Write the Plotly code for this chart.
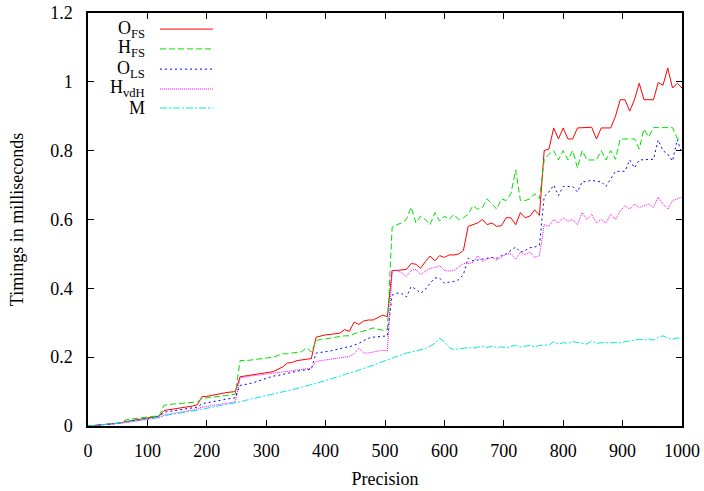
import plotly.graph_objects as go

# Precision values (step 8 from 0 to 1000)
precision = list(range(0, 1001, 8))

o_fs = [
    0, 0.001, 0.002, 0.003, 0.004, 0.005, 0.007, 0.009,
    0.013, 0.015, 0.017, 0.019, 0.022, 0.025, 0.027, 0.029,
    0.045, 0.047, 0.048, 0.05, 0.053, 0.055, 0.058, 0.062,
    0.085, 0.086, 0.088, 0.09, 0.094, 0.097, 0.099, 0.1,
    0.143, 0.145, 0.148, 0.15, 0.152, 0.155, 0.157, 0.158, 0.165, 0.172, 0.183, 0.185, 0.19, 0.192, 0.193, 0.196,
    0.258, 0.262, 0.265, 0.266, 0.268, 0.27, 0.28, 0.275, 0.302, 0.295, 0.305, 0.308, 0.308, 0.315, 0.322, 0.318,
    0.452, 0.452, 0.453, 0.455, 0.472, 0.47, 0.458, 0.478, 0.494, 0.48, 0.495, 0.49, 0.497, 0.497, 0.5, 0.51,
    0.58, 0.585, 0.59, 0.6, 0.585, 0.59, 0.58, 0.582, 0.605, 0.605, 0.585, 0.62, 0.605, 0.61, 0.628, 0.612,
    0.80, 0.805, 0.866, 0.834, 0.866, 0.834, 0.834, 0.866, 0.866, 0.868, 0.868, 0.834, 0.866, 0.866, 0.866,
    0.9, 0.948, 0.948, 0.915, 0.948, 0.996, 0.948, 0.948, 0.948, 0.998, 0.99, 1.04, 0.982, 0.996, 0.982,
]

h_fs = [
    0, 0.001, 0.002, 0.003, 0.004, 0.006, 0.008, 0.01,
    0.018, 0.02, 0.022, 0.024, 0.026, 0.028, 0.029, 0.03,
    0.06, 0.063, 0.064, 0.065, 0.066, 0.067, 0.068, 0.07,
    0.08, 0.082, 0.084, 0.086, 0.087, 0.088, 0.09, 0.092,
    0.19, 0.19, 0.191, 0.193, 0.195, 0.197, 0.198, 0.2, 0.205, 0.21, 0.21, 0.212, 0.213, 0.216, 0.228, 0.215,
    0.248, 0.252, 0.253, 0.256, 0.258, 0.26, 0.262, 0.262, 0.268, 0.272, 0.274, 0.28, 0.285, 0.282, 0.278, 0.28,
    0.578, 0.585, 0.59, 0.6, 0.636, 0.59, 0.61, 0.6, 0.585, 0.62, 0.595, 0.61, 0.6, 0.615, 0.6, 0.605,
    0.615, 0.64, 0.63, 0.635, 0.66, 0.645, 0.63, 0.66, 0.655, 0.675, 0.744, 0.655, 0.655, 0.66, 0.675, 0.66,
    0.773, 0.79, 0.8, 0.773, 0.8, 0.773, 0.8, 0.75, 0.8, 0.773, 0.773, 0.773, 0.8, 0.773, 0.8,
    0.775, 0.834, 0.834, 0.834, 0.834, 0.805, 0.863, 0.84, 0.867, 0.867, 0.867, 0.867, 0.867, 0.836, 0.83,
]

o_ls = [
    0, 0.001, 0.002, 0.003, 0.004, 0.005, 0.006, 0.008,
    0.012, 0.014, 0.016, 0.018, 0.02, 0.022, 0.024, 0.026,
    0.04, 0.042, 0.044, 0.046, 0.048, 0.05, 0.052, 0.055,
    0.065, 0.067, 0.069, 0.072, 0.075, 0.078, 0.08, 0.082,
    0.118, 0.12, 0.123, 0.127, 0.132, 0.136, 0.14, 0.145, 0.147, 0.15, 0.153, 0.157, 0.16, 0.162, 0.163, 0.165,
    0.212, 0.215, 0.216, 0.218, 0.222, 0.225, 0.228, 0.23, 0.235, 0.24, 0.248, 0.255, 0.258, 0.26, 0.26, 0.262,
    0.38, 0.386, 0.385, 0.375, 0.405, 0.398, 0.386, 0.397, 0.415, 0.43, 0.43, 0.415, 0.418, 0.42, 0.425, 0.44,
    0.488, 0.48, 0.482, 0.485, 0.488, 0.49, 0.487, 0.495, 0.5, 0.51, 0.52, 0.505, 0.51, 0.518, 0.52, 0.525,
    0.667, 0.68, 0.7, 0.67, 0.696, 0.696, 0.696, 0.68, 0.71, 0.71, 0.715, 0.71, 0.71, 0.696, 0.72,
    0.74, 0.74, 0.74, 0.773, 0.75, 0.773, 0.773, 0.773, 0.775, 0.831, 0.8, 0.79, 0.77, 0.832, 0.79,
]

h_vdh = [
    0, 0.001, 0.002, 0.003, 0.004, 0.005, 0.006, 0.007,
    0.01, 0.012, 0.014, 0.016, 0.018, 0.02, 0.022, 0.024,
    0.032, 0.034, 0.036, 0.038, 0.04, 0.043, 0.046, 0.05,
    0.055, 0.057, 0.059, 0.062, 0.064, 0.066, 0.068, 0.07,
    0.14, 0.143, 0.146, 0.147, 0.148, 0.15, 0.152, 0.153, 0.155, 0.157, 0.158, 0.16, 0.162, 0.164, 0.166, 0.168,
    0.188, 0.19, 0.192, 0.195, 0.197, 0.198, 0.2, 0.202, 0.21, 0.226, 0.212, 0.212, 0.215, 0.218, 0.22, 0.218,
    0.452, 0.452, 0.445, 0.435, 0.452, 0.455, 0.44, 0.45, 0.458, 0.46, 0.466, 0.452, 0.45, 0.452, 0.462, 0.472,
    0.472, 0.475, 0.495, 0.478, 0.485, 0.49, 0.482, 0.492, 0.5, 0.5, 0.485, 0.505, 0.498, 0.505, 0.49, 0.495,
    0.585, 0.58, 0.6, 0.59, 0.605, 0.595, 0.6, 0.585, 0.62, 0.6, 0.615, 0.59, 0.6, 0.59, 0.615,
    0.6, 0.625, 0.64, 0.63, 0.645, 0.635, 0.64, 0.645, 0.635, 0.665, 0.645, 0.63, 0.655, 0.66, 0.665,
]

m_vals = [
    0, 0.001, 0.002, 0.003, 0.004, 0.005, 0.007, 0.009,
    0.011, 0.013, 0.015, 0.017, 0.02, 0.022, 0.024, 0.026,
    0.03, 0.032, 0.034, 0.036, 0.039, 0.041, 0.043, 0.046,
    0.049, 0.051, 0.054, 0.057, 0.06, 0.062, 0.065, 0.068,
    0.07, 0.074, 0.077, 0.08, 0.083, 0.086, 0.089, 0.092, 0.096, 0.099, 0.102, 0.106, 0.109, 0.113, 0.116, 0.12,
    0.124, 0.128, 0.132, 0.135, 0.14, 0.145, 0.15, 0.155, 0.158, 0.162, 0.167, 0.172, 0.178, 0.184, 0.188, 0.192,
    0.198, 0.203, 0.208, 0.212, 0.215, 0.218, 0.222, 0.225, 0.232, 0.24, 0.255, 0.245, 0.228, 0.222, 0.224, 0.226,
    0.228, 0.226, 0.23, 0.232, 0.228, 0.232, 0.228, 0.23, 0.226, 0.232, 0.234, 0.23, 0.232, 0.234, 0.23, 0.234,
    0.235, 0.235, 0.245, 0.238, 0.242, 0.24, 0.245, 0.242, 0.24, 0.238, 0.247, 0.24, 0.242, 0.242, 0.242,
    0.24, 0.242, 0.245, 0.248, 0.25, 0.252, 0.25, 0.253, 0.25, 0.258, 0.262, 0.255, 0.252, 0.256, 0.255,
]

series_names = ["O<sub>FS</sub>", "H<sub>FS</sub>", "O<sub>LS</sub>", "H<sub>vdH</sub>", "M"]
series_values = [o_fs, h_fs, o_ls, h_vdh, m_vals]
colors = ["#ff0000", "#00e000", "#0000ff", "#ff00ff", "#00e8e8"]
dashes = ["solid", "6px,3px", "2px,3px", "1px,1px", "7px,2px,2px,2px"]

FONT = "'Liberation Serif', 'Times New Roman', Times, serif"

fig = go.Figure()
for name, vals, c, d in zip(series_names, series_values, colors, dashes):
    fig.add_trace(go.Scatter(x=precision, y=vals, mode="lines", name=name,
                             line=dict(color=c, width=1, dash=d), showlegend=False))

# Manual gnuplot-style key: right-aligned text, line sample to the right
key_y = [0.961, 0.913, 0.864, 0.816, 0.770]
for name, c, d, ky in zip(series_names, colors, dashes, key_y):
    fig.add_annotation(xref="paper", yref="paper", x=0.0993, y=ky, text=name,
                       showarrow=False, xanchor="right", yanchor="middle",
                       font=dict(family=FONT, size=18, color="black"))
    fig.add_shape(type="line", xref="paper", yref="paper", x0=0.1212, x1=0.2104,
                  y0=ky, y1=ky, line=dict(color=c, width=1, dash=d))

axis_common = dict(
    showline=True, linecolor="black", linewidth=1.5, mirror="ticks",
    ticks="inside", ticklen=6, tickwidth=1, tickcolor="black",
    showgrid=False, zeroline=False, automargin=False,
    tickfont=dict(family=FONT, size=18, color="black"),
)

fig.update_layout(
    width=704, height=491,
    margin=dict(l=88, r=22, t=13, b=65),
    paper_bgcolor="white", plot_bgcolor="white",
    font=dict(family=FONT, size=18, color="black"),
    xaxis=dict(range=[0, 1000], dtick=100, tick0=0,
               title=dict(text="Precision", font=dict(family=FONT, size=18), standoff=12),
               ticklabelstandoff=8, **axis_common),
    yaxis=dict(range=[0, 1.2], dtick=0.2, tick0=0,
               title=dict(text="Timings in milliseconds", font=dict(family=FONT, size=18), standoff=22),
               ticklabelstandoff=10, **axis_common),
)

fig.write_html("out.html")
